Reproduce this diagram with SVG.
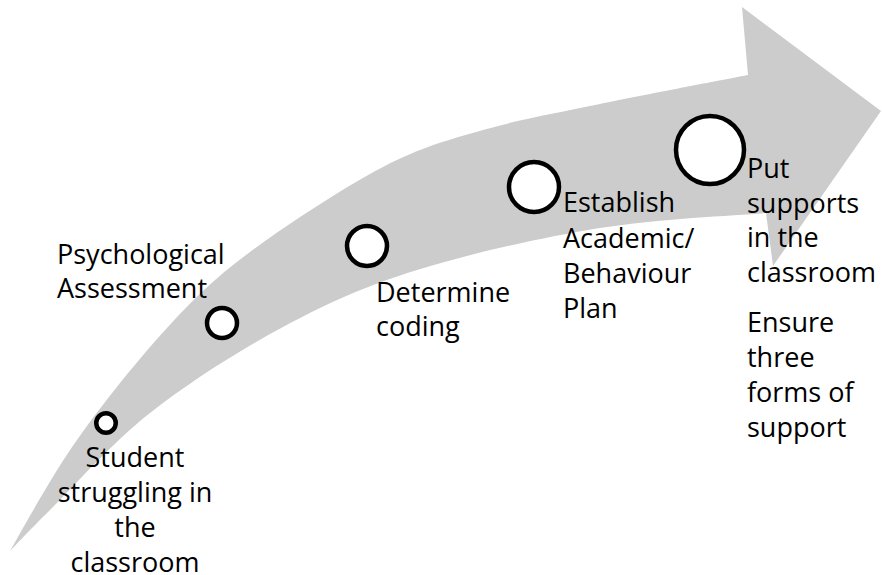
<svg xmlns="http://www.w3.org/2000/svg" width="882" height="575" viewBox="0 0 882 575">
<style>
.lbl{font-family:"Open Sans","Liberation Sans",sans-serif;font-size:27px;fill:#000}
.dot{fill:#fff;stroke:#000;stroke-width:4.5}
</style>
<rect width="882" height="575" fill="#fff"/>
<g id="arrow">
<path fill="#cccccc" d="M10,551 C21.2,531.7 50.8,477 77,440 C103.2,403 138.2,359.3 167,328 C195.8,296.7 214,278.8 250,252 C286,225.2 344.2,187.3 383,167 C421.8,146.7 446.8,140.5 483,130 C519.2,119.5 555.8,113.2 600,104 C644.2,94.8 723.3,79.8 748,75 L742,7 L881,111 L773,266 L766,213 C738.3,215.5 658.2,218.5 600,228 C541.8,237.5 469.8,253.5 417,270 C364.2,286.5 327.5,303.2 283,327 C238.5,350.8 188.8,382.5 150,413 C111.2,443.5 73.3,487 50,510 C26.7,533 16.7,544.2 10,551 Z"/>
</g>
<g id="connectors"></g>
<g id="n1">
<circle class="dot" cx="106" cy="423" r="9.75"/>
<text class="lbl" text-anchor="middle"><tspan x="135" y="467">Student</tspan><tspan x="135" y="502">struggling in</tspan><tspan x="135" y="537">the</tspan><tspan x="135" y="572">classroom</tspan></text>
</g>
<g id="n2">
<circle class="dot" cx="222" cy="323" r="15"/>
<text class="lbl"><tspan x="57" y="264">Psychological</tspan><tspan x="57" y="298">Assessment</tspan></text>
</g>
<g id="n3">
<circle class="dot" cx="367" cy="246" r="20"/>
<text class="lbl"><tspan x="376" y="302">Determine</tspan><tspan x="376" y="336">coding</tspan></text>
</g>
<g id="n4">
<circle class="dot" cx="534" cy="187" r="25"/>
<text class="lbl"><tspan x="563" y="212">Establish</tspan><tspan x="563" y="248">Academic/</tspan><tspan x="563" y="283">Behaviour</tspan><tspan x="563" y="318">Plan</tspan></text>
</g>
<g id="n5">
<circle class="dot" cx="710" cy="150" r="34"/>
<text class="lbl"><tspan x="747" y="178">Put</tspan><tspan x="747" y="213">supports</tspan><tspan x="747" y="247">in the</tspan><tspan x="747" y="282">classroom</tspan></text>
<text class="lbl"><tspan x="747" y="332">Ensure</tspan><tspan x="747" y="367">three</tspan><tspan x="747" y="402">forms of</tspan><tspan x="747" y="437">support</tspan></text>
</g>
</svg>
